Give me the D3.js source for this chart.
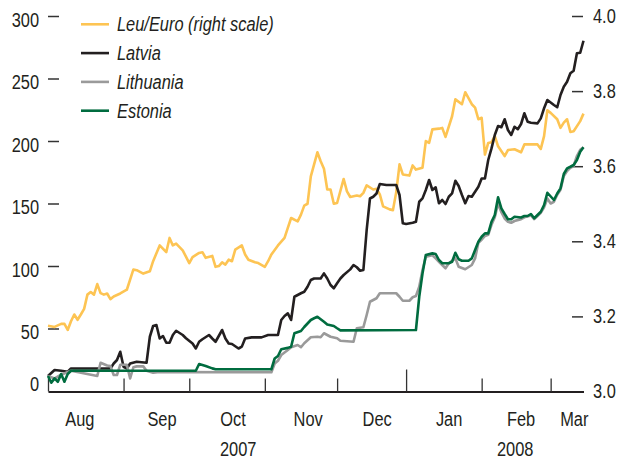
<!DOCTYPE html>
<html><head><meta charset="utf-8">
<script src="https://cdn.jsdelivr.net/npm/d3@7"></script>
<style>
body{margin:0;background:#fff;}
text{font-family:"Liberation Sans","Arial",sans-serif;fill:#231f20;}
</style></head>
<body><svg id="c" width="620" height="464"></svg>
<script>
// trading-day index (0 = 1 Aug 2007)
const monthStarts = [0, 23, 43, 66, 88, 109, 132, 153];
const monthLabels = ["Aug","Sep","Oct","Nov","Dec","Jan","Feb","Mar"];
const monthLabelDays = [9.7, 34.7, 56.3, 79.2, 100.2, 122.1, 144, 160.2];
const yearLabels = ["2007","2008"];
const yearLabelDays = [57.9, 142.2];
const yearBoundary = 109;
const leftTicks = [0,50,100,150,200,250,300];
const rightTicks = [3.0,3.2,3.4,3.6,3.8,4.0];
const seriesNames = ["Leu/Euro (right scale)","Latvia","Lithuania","Estonia"];

const leuDays = [0,2,4,5,6,7,8,9,10,11,12,13,14,15,16,17,18,19,20,22,24,26,27,29,31,32,34,36,37,38,39,41,43,44,46,47,48,50,51,52,53,54,55,56,57,59,60,61,63,64,66,67,68,70,72,73,74,76,77,78,79,80,82,83,84,85,86,87,88,90,91,92,94,95,96,97,99,100,101,102,104,105,106,107,108,110,111,112,114,115,116,117,119,120,121,123,124,126,127,129,130,131,132,133,134,135,136,137,139,140,142,144,145,147,149,150,151,152,153,155,156,157,158,159,160,162,163];
const leuValues = [3.175,3.172,3.18,3.18,3.164,3.187,3.205,3.191,3.205,3.22,3.258,3.265,3.258,3.286,3.262,3.258,3.261,3.246,3.253,3.261,3.271,3.325,3.323,3.314,3.32,3.347,3.389,3.371,3.409,3.389,3.394,3.376,3.342,3.358,3.369,3.371,3.356,3.361,3.332,3.334,3.344,3.338,3.351,3.347,3.378,3.389,3.365,3.351,3.344,3.342,3.332,3.347,3.365,3.389,3.409,3.436,3.462,3.453,3.471,3.495,3.50,3.573,3.637,3.613,3.593,3.538,3.538,3.50,3.502,3.566,3.533,3.518,3.522,3.52,3.529,3.549,3.538,3.54,3.525,3.493,3.485,3.483,3.531,3.605,3.578,3.575,3.602,3.591,3.596,3.667,3.662,3.698,3.70,3.702,3.678,3.733,3.778,3.765,3.797,3.765,3.756,3.725,3.729,3.631,3.662,3.664,3.68,3.653,3.627,3.643,3.645,3.637,3.658,3.658,3.658,3.646,3.68,3.749,3.742,3.725,3.702,3.716,3.725,3.691,3.693,3.72,3.74];

const latviaDays = [0,2,4,6,7,19,20,21,22,23,24,25,27,30,31,32,33,34,35,36,37,38,39,41,42,44,45,46,47,49,50,51,53,54,55,56,58,59,60,62,65,67,70,71,72,73,74,75,77,78,79,80,81,83,84,85,86,87,88,89,90,92,93,94,95,96,97,98,99,100,101,103,105,106,107,108,109,111,112,113,114,115,116,117,118,119,120,121,122,123,124,125,126,127,128,129,131,132,133,134,135,136,137,138,139,140,141,142,143,144,145,146,147,149,150,151,152,154,155,156,157,158,159,160,161,162,163];
const latviaValues = [12,16.8,16.2,15.4,18,18,22,24.8,31.4,19.4,18,22,23.4,22.6,43.4,52,52.8,42,44,38.6,38.6,44.8,48.2,44.8,42.2,38,34,39.4,41.4,44.8,42,39.4,48.8,42,38,37.6,34,35.5,42,42.9,42.9,44.8,44.8,56.8,60,62.1,56.8,75.4,78.2,79.4,83.4,88.8,90,90,94.1,90,84.8,82.2,86.2,90,92.8,97.3,100.8,99,96.2,96.8,128.8,154,155.4,158,165.6,164.8,164.8,164.8,156.8,134.2,133.6,134.6,135.4,151.4,154.1,160.8,168.8,160.8,162.9,150.2,152.8,149.6,155.4,158.1,168.2,164,156.8,150.2,156,155.4,163.4,170,170,184.8,194.1,204.8,212,211,217.4,208.8,204.8,211.4,209.4,213.6,222.2,215.4,214.6,214.1,218.1,226.2,232.8,228.8,227,236.8,243.4,247.4,254.2,256.2,270.2,270.6,280.2];

const lithuaniaDays = [0,2,4,7,15,16,18,19,20,21,22,24,25,26,27,29,30,32,34,68,69,70,71,73,74,76,77,78,80,82,83,84,86,88,89,93,94,96,97,98,100,101,106,107,108,110,111,112,113,114,115,117,118,119,121,122,124,125,127,129,130,131,132,133,134,135,136,137,138,139,140,141,142,144,145,147,148,149,150,151,152,153,154,155,156,157,158,159,160,161,162,163];
const lithuaniaValues = [12,10,13,16.2,12,22.6,20.4,20,12.8,12.8,21,21,10.1,19,19.7,19.7,16.2,14.6,15.2,15,22,24.2,28.8,32.8,35,36.8,35,38.2,43,43.4,43,46.2,43.4,42.2,40.2,39.4,50.2,51,60.8,71.4,74.2,78.2,78.2,75.4,72.2,72.2,75,76,83.4,96.8,107.4,108.6,106.1,103.4,98.2,102.2,106.1,99.4,97.4,100.8,106.1,118.6,121,124,125,133,139,150,143,138,135.4,134.6,136,137.5,139,140.5,137.5,140,142.5,147,154,150,151.4,157,161,172,176,178.5,180,188,193,195];

const estoniaDays = [0,1,2,3,4,5,6,7,45,46,48,50,51,68,69,70,71,73,74,75,77,78,80,81,82,84,85,87,88,89,112,113,114,115,117,118,119,120,122,123,124,125,126,128,129,130,131,132,133,134,135,136,137,138,139,140,141,142,144,145,146,147,148,149,150,151,152,154,155,156,157,158,159,160,161,162,163];
const estoniaValues = [12,6.6,10.1,7.4,13.6,7.4,13.6,16.2,16.2,21.6,20,18.1,17.4,17.4,26,28,33.4,34.5,35.4,46.2,48,51.2,56.8,58.2,59.4,55.4,53.2,52,50.2,48.5,48.8,75.4,94.1,108.8,110.1,109.6,104.8,102.2,102.2,103.4,110.6,105.4,104.2,104.2,106.1,112.8,119.4,123.4,126.1,126.1,135.4,140.8,155,146.1,141.6,137.4,137.4,139.4,138.8,140,140,141.6,138.2,140.8,143.4,148.8,158.6,152.8,158,162.1,173.6,178.1,179.4,180.8,184.8,191.4,195];

const colors = ["#fdc453","#231f20","#9a9a9a","#006c3f"];

const svg = d3.select("#c");
const x = d3.scaleLinear().domain([0,163]).range([48,583.5]);
const yL = d3.scaleLinear().domain([0,300]).range([391,16]);
const yR = d3.scaleLinear().domain([3.0,4.0]).range([391.5,16]);

function narrow(sel){
  sel.each(function(){
    const l = this.getComputedTextLength();
    this.setAttribute("textLength", (l*0.82).toFixed(2));
    this.setAttribute("lengthAdjust","spacingAndGlyphs");
  });
}

// left axis
const gl = svg.append("g").attr("transform","translate(59,0)")
  .call(d3.axisLeft(yL).tickValues(leftTicks).tickSize(11).tickPadding(9).tickFormat(d3.format("d")));
gl.select(".domain").remove();
gl.selectAll(".tick line").attr("stroke","#333").attr("stroke-width",1.5).filter(d=>d===0).remove();
gl.selectAll(".tick text").attr("font-size",20).attr("font-family",null).attr("fill","#231f20")
  .attr("dy", d => d===0 ? "-0.05em" : "0.5em").call(narrow);

// right axis
const gr = svg.append("g").attr("transform","translate(572,0)")
  .call(d3.axisRight(yR).tickValues(rightTicks).tickSize(11).tickPadding(10).tickFormat(d3.format(".1f")));
gr.select(".domain").remove();
gr.selectAll(".tick line").attr("stroke","#333").attr("stroke-width",1.5);
gr.selectAll(".tick text").attr("font-size",20).attr("font-family",null).attr("fill","#231f20").call(narrow);

// x axis
const gx = svg.append("g").attr("transform","translate(0,391.5)")
  .call(d3.axisBottom(x).tickValues(monthStarts).tickSizeInner(-13).tickSizeOuter(0).tickFormat(""));
gx.select(".domain").attr("stroke","#231f20").attr("stroke-width",2);
gx.selectAll(".tick line").attr("stroke","#333").attr("stroke-width",1.3)
  .attr("y2", d => d===yearBoundary ? -22 : -13);

svg.append("g").selectAll("text").data(monthLabels).join("text")
  .attr("x",(d,i)=>x(monthLabelDays[i])).attr("y",426).attr("text-anchor","middle")
  .attr("font-size",20).text(d=>d).call(narrow);
svg.append("g").selectAll("text").data(yearLabels).join("text")
  .attr("x",(d,i)=>x(yearLabelDays[i])).attr("y",456).attr("text-anchor","middle")
  .attr("font-size",20).text(d=>d).call(narrow);

// lines
const series = [
  {days:leuDays, vals:leuValues, y:yR, c:colors[0]},
  {days:latviaDays, vals:latviaValues, y:yL, c:colors[1]},
  {days:lithuaniaDays, vals:lithuaniaValues, y:yL, c:colors[2]},
  {days:estoniaDays, vals:estoniaValues, y:yL, c:colors[3]}
];
series.forEach(s=>{
  const pts = s.days.map((d,i)=>[d,s.vals[i]]);
  svg.append("path").datum(pts)
    .attr("fill","none").attr("stroke",s.c).attr("stroke-width",2.6).attr("stroke-linejoin","round")
    .attr("d", d3.line().x(p=>x(p[0])).y(p=>s.y(p[1])));
});

// legend
const lg = svg.append("g");
seriesNames.forEach((n,i)=>{
  const yy = 24.3 + i*28.8;
  lg.append("line").attr("x1",81).attr("x2",109).attr("y1",yy).attr("y2",yy)
    .attr("stroke",colors[i]).attr("stroke-width",2.6);
  lg.append("text").attr("x",117).attr("y",yy+7).attr("font-size",20).attr("font-style","italic").text(n).call(narrow);
});
</script></body></html>
